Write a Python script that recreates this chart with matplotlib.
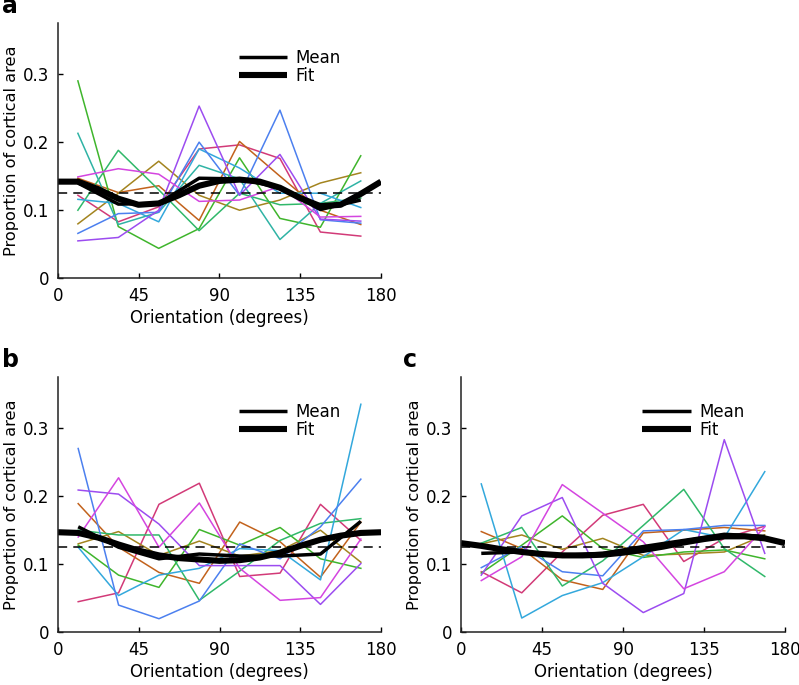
import numpy as np
import matplotlib
matplotlib.use('Agg')
import matplotlib.pyplot as plt

# orientation bin centres (degrees) and the points where the fit was read
orient = [11.25, 33.75, 56.25, 78.75, 101.25, 123.75, 146.25, 168.75]
fit_orient = [0, 11.25, 22.5, 33.75, 45, 56.25, 67.5, 78.75, 90,
              101.25, 112.5, 123.75, 135, 146.25, 157.5, 168.75, 180]
uniform = 0.125

line_names = ['crimson', 'orange', 'olive', 'lime', 'green', 'teal',
              'cyan', 'blue', 'purple', 'magenta']
line_colors = {'crimson': '#d23a78', 'orange': '#c2621c', 'olive': '#a3841f',
               'lime': '#3fb52c', 'green': '#30b86a', 'teal': '#2fb3a5',
               'cyan': '#33a8dc', 'blue': '#4c80ef', 'purple': '#9c4cf0',
               'magenta': '#d445e0'}

# panel a
a_lines = {
    'crimson': [0.122, 0.083, 0.105, 0.190, 0.196, 0.176, 0.068, 0.062],
    'orange':  [0.147, 0.126, 0.136, 0.085, 0.201, 0.150, 0.100, 0.079],
    'olive':   [0.080, 0.125, 0.172, 0.122, 0.100, 0.115, 0.140, 0.155],
    'lime':    [0.290, 0.076, 0.044, 0.073, 0.177, 0.088, 0.075, 0.180],
    'green':   [0.100, 0.188, 0.130, 0.070, 0.125, 0.108, 0.110, 0.118],
    'teal':    [0.213, 0.079, 0.097, 0.166, 0.146, 0.057, 0.110, 0.143],
    'cyan':    [0.116, 0.110, 0.083, 0.190, 0.162, 0.125, 0.125, 0.104],
    'blue':    [0.066, 0.095, 0.097, 0.200, 0.122, 0.247, 0.086, 0.081],
    'purple':  [0.055, 0.060, 0.100, 0.253, 0.122, 0.182, 0.087, 0.084],
    'magenta': [0.149, 0.161, 0.153, 0.113, 0.115, 0.135, 0.090, 0.091],
}
a_mean = [0.140, 0.109, 0.110, 0.147, 0.146, 0.133, 0.101, 0.115]
a_fit = [0.142, 0.142, 0.131, 0.117, 0.108, 0.110, 0.122, 0.136, 0.143,
         0.145, 0.142, 0.133, 0.118, 0.106, 0.108, 0.124, 0.142]

# panel b
b_lines = {
    'crimson': [0.045, 0.058, 0.188, 0.219, 0.082, 0.087, 0.188, 0.135],
    'orange':  [0.189, 0.125, 0.088, 0.072, 0.162, 0.133, 0.081, 0.162],
    'olive':   [0.130, 0.148, 0.113, 0.134, 0.112, 0.120, 0.150, 0.103],
    'lime':    [0.128, 0.084, 0.066, 0.151, 0.128, 0.154, 0.108, 0.094],
    'green':   [0.150, 0.143, 0.143, 0.047, 0.090, 0.135, 0.160, 0.167],
    'cyan':    [0.125, 0.054, 0.084, 0.094, 0.123, 0.120, 0.077, 0.335],
    'blue':    [0.270, 0.040, 0.020, 0.046, 0.130, 0.108, 0.155, 0.225],
    'purple':  [0.209, 0.203, 0.159, 0.098, 0.098, 0.098, 0.041, 0.101],
    'magenta': [0.140, 0.227, 0.125, 0.190, 0.094, 0.047, 0.051, 0.137],
}
b_mean = [0.155, 0.125, 0.108, 0.115, 0.112, 0.112, 0.115, 0.163]
b_fit = [0.147, 0.146, 0.139, 0.129, 0.120, 0.113, 0.109, 0.107, 0.105,
         0.106, 0.110, 0.117, 0.127, 0.136, 0.142, 0.146, 0.147]

# panel c
c_lines = {
    'crimson': [0.089, 0.058, 0.118, 0.172, 0.188, 0.104, 0.138, 0.156],
    'orange':  [0.148, 0.123, 0.077, 0.063, 0.146, 0.150, 0.154, 0.149],
    'olive':   [0.130, 0.143, 0.122, 0.138, 0.113, 0.115, 0.118, 0.143],
    'lime':    [0.087, 0.128, 0.171, 0.123, 0.110, 0.118, 0.121, 0.108],
    'green':   [0.131, 0.154, 0.068, 0.105, 0.157, 0.210, 0.123, 0.082],
    'cyan':    [0.218, 0.021, 0.054, 0.073, 0.111, 0.151, 0.139, 0.236],
    'blue':    [0.095, 0.126, 0.089, 0.083, 0.149, 0.151, 0.157, 0.157],
    'purple':  [0.084, 0.171, 0.198, 0.072, 0.029, 0.057, 0.283, 0.116],
    'magenta': [0.076, 0.111, 0.217, 0.175, 0.133, 0.064, 0.089, 0.155],
}
c_mean = [0.116, 0.118, 0.113, 0.116, 0.126, 0.135, 0.144, 0.141]
c_fit = [0.131, 0.127, 0.122, 0.118, 0.115, 0.113, 0.113, 0.114, 0.117,
         0.121, 0.126, 0.132, 0.137, 0.141, 0.141, 0.138, 0.131]

plt.rcParams['font.family'] = 'DejaVu Sans'
plt.rcParams['font.size'] = 12

fig = plt.figure(figsize=(7.99, 6.85), dpi=100)


def panel(rect, lines, mean, fit, letter, letter_xy):
    ax = fig.add_axes(rect)
    for name in line_names:
        if name in lines:
            ax.plot(orient, lines[name], color=line_colors[name], lw=1.1)
    ax.axhline(uniform, color='black', lw=1.1, ls=(0, (6, 4)))
    m, = ax.plot(orient, mean, color='black', lw=2.5, solid_capstyle='butt')
    f, = ax.plot(fit_orient, fit, color='black', lw=4.4, solid_capstyle='butt')
    ax.set_xlim(0, 180)
    ax.set_ylim(0, 0.375)
    ax.set_xticks([0, 45, 90, 135, 180])
    ax.set_yticks([0, 0.1, 0.2, 0.3])
    ax.set_yticklabels(['0', '0.1', '0.2', '0.3'])
    for s in ['top', 'right']:
        ax.spines[s].set_visible(False)
    for s in ['left', 'bottom']:
        ax.spines[s].set_linewidth(1.1)
        ax.spines[s].set_color('#222222')
    ax.tick_params(direction='in', length=3.5, width=1.0, pad=6, labelsize=12)
    ax.set_xlabel('Orientation (degrees)', labelpad=3)
    ax.set_ylabel('Proportion of cortical area', labelpad=3, fontsize=11.6)
    ax.legend([m, f], ['Mean', 'Fit'], loc='upper left',
              bbox_to_anchor=(0.56, 0.90), frameon=False, borderpad=0,
              borderaxespad=0, handlelength=2.9, handletextpad=0.5,
              labelspacing=0.02, fontsize=12)
    fig.text(letter_xy[0], letter_xy[1], letter, fontsize=17,
             fontweight='bold', va='baseline')
    return ax


panel([0.0722, 0.5937, 0.4046, 0.3727], a_lines, a_mean, a_fit, 'a', (0.002, 0.981))
panel([0.0726, 0.0769, 0.4043, 0.3727], b_lines, b_mean, b_fit, 'b', (0.002, 0.464))
panel([0.5770, 0.0769, 0.4055, 0.3727], c_lines, c_mean, c_fit, 'c', (0.505, 0.464))

fig.savefig('out.png', dpi=100)
